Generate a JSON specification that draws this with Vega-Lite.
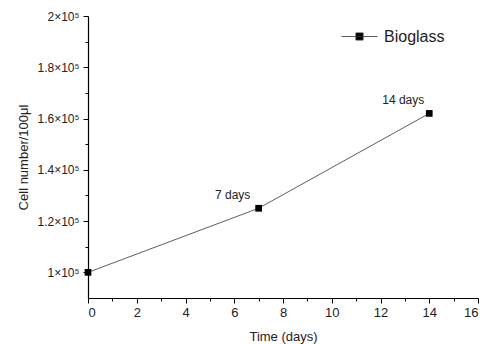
{
  "$schema": "https://vega.github.io/schema/vega-lite/v6.json",
  "width": 390,
  "height": 282,
  "autosize": {"type": "none"},
  "padding": {"left": 88, "top": 16, "right": 9, "bottom": 46},
  "background": "white",
  "config": {
    "view": {"stroke": null},
    "font": "Liberation Sans",
    "axis": {"grid": false, "domainColor": "black", "tickColor": "black", "labelColor": "#222", "titleColor": "#222", "titleFontWeight": "normal", "domainWidth": 1.2, "tickWidth": 1}
  },
  "data": {
    "values": [
      {"time": 0, "cells": 100000, "label": "", "series": "Bioglass"},
      {"time": 7, "cells": 125000, "label": "7 days", "series": "Bioglass"},
      {"time": 14, "cells": 162000, "label": "14 days", "series": "Bioglass"}
    ]
  },
  "encoding": {
    "x": {
      "field": "time", "type": "quantitative",
      "scale": {"domain": [0, 16], "nice": false, "zero": false},
      "axis": {
        "title": "Time (days)", "titleFontSize": 13, "titlePadding": 11,
        "values": [0,1,2,3,4,5,6,7,8,9,10,11,12,13,14,15,16],
        "labelExpr": "datum.value % 2 == 0 ? datum.label : ''",
        "labelFontSize": 13, "labelPadding": 3,
        "tickSize": {"condition": {"test": "datum.value % 2 == 0", "value": 5}, "value": 3}
      }
    },
    "y": {
      "field": "cells", "type": "quantitative",
      "scale": {"domain": [90000, 200000], "nice": false, "zero": false},
      "axis": {
        "title": "Cell number/100μl", "titleFontSize": 13, "titlePadding": 6,
        "values": [100000,110000,120000,130000,140000,150000,160000,170000,180000,190000,200000],
        "labelExpr": "datum.value % 20000 == 0 ? format(datum.value/100000, '') + '×10⁵' : ''",
        "labelFontSize": 12, "labelPadding": 4,
        "tickSize": {"condition": {"test": "datum.value % 20000 == 0", "value": 5}, "value": 3}
      }
    }
  },
  "layer": [
    {
      "mark": {"type": "line", "strokeWidth": 0.8},
      "encoding": {
        "color": {
          "field": "series", "type": "nominal",
          "scale": {"domain": ["Bioglass"], "range": ["#333"]},
          "legend": {
            "title": null, "orient": "none", "legendX": 253, "legendY": 2,
            "symbolType": "M-1,0H1M-0.2,-0.2H0.2V0.2H-0.2Z",
            "symbolSize": 1296, "symbolStrokeWidth": 0.8,
            "symbolFillColor": "black", "symbolStrokeColor": "#555",
            "labelFontSize": 16, "labelColor": "#222", "labelOffset": 6
          }
        }
      }
    },
    {
      "mark": {"type": "point", "shape": "square", "filled": true, "color": "black", "size": 45, "opacity": 1}
    },
    {
      "mark": {"type": "text", "fontSize": 12, "color": "#222", "dx": -26, "dy": -13},
      "encoding": {"text": {"field": "label"}}
    }
  ]
}
